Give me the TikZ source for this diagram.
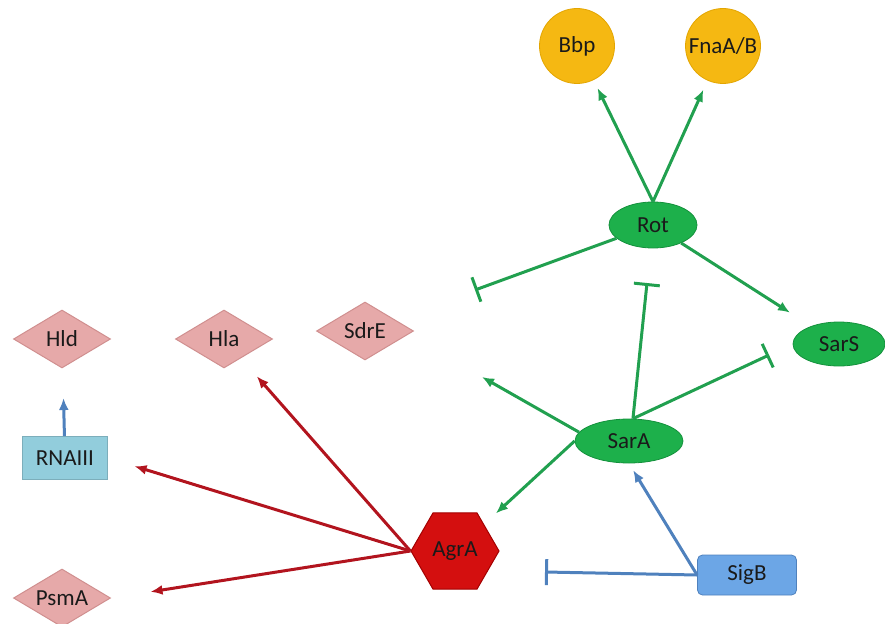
\documentclass[tikz,border=0pt]{standalone}
\usepackage{fontspec}
\setmainfont{Carlito}
\usetikzlibrary{arrows.meta,positioning,shapes.geometric}
\definecolor{rgink}{HTML}{1A1A1A}
\definecolor{rggreen}{HTML}{21A04F}
\definecolor{rgleaf}{HTML}{1DB04B}
\definecolor{rgleafdk}{HTML}{14913C}
\definecolor{rggold}{HTML}{F5B812}
\definecolor{rggolddk}{HTML}{E3A500}
\definecolor{rgpink}{HTML}{E6A9A9}
\definecolor{rgpinkdk}{HTML}{D08F8F}
\definecolor{rgred}{HTML}{D40F0F}
\definecolor{rgreddk}{HTML}{A30000}
\definecolor{rgwine}{HTML}{B2141E}
\definecolor{rgblue}{HTML}{4F81BD}
\definecolor{rgaqua}{HTML}{92CDDC}
\definecolor{rgsky}{HTML}{6CA6E6}
\tikzset{
  regulator/.style={ellipse,draw=rgleafdk,fill=rgleaf,line width=.8pt,inner sep=0pt,text=rgink},
  adhesin/.style={circle,draw=rggolddk,fill=rggold,line width=.8pt,minimum size=75pt,inner sep=0pt,text=rgink},
  toxin/.style={diamond,aspect=1.67,draw=rgpinkdk,fill=rgpink,line width=1pt,minimum width=97pt,minimum height=58pt,inner sep=0pt,text=rgink},
  agr/.style={regular polygon,regular polygon sides=6,draw=rgreddk,fill=rgred,line width=1pt,minimum size=88pt,inner sep=0pt,text=rgink},
  rnabox/.style={rectangle,draw=rgaqua!85!black,fill=rgaqua,line width=.6pt,minimum width=85pt,minimum height=43pt,inner sep=0pt,text=rgink},
  sigma/.style={rectangle,rounded corners=5pt,draw=rgblue,fill=rgsky,line width=.8pt,minimum width=99pt,minimum height=40pt,inner sep=0pt,text=rgink},
  greenact/.style={-{Latex[length=12pt,width=10pt]},draw=rggreen,line width=3pt},
  greeninh/.style={-{Bar[width=26pt]},draw=rggreen,line width=3pt},
  redact/.style={-{Latex[length=12pt,width=10pt]},draw=rgwine,line width=3pt},
  blueact/.style={-{Latex[length=12pt,width=10pt]},draw=rgblue,line width=3pt},
  blueinh/.style={-{Bar[width=26pt]},draw=rgblue,line width=3pt},
}
\begin{document}
\begin{tikzpicture}[x=1pt,y=-1pt,font=\fontsize{23}{26}\selectfont]
  \useasboundingbox (0,0) rectangle (885,623);
  \node[adhesin] (bbp) at (577,46) {Bbp};
  \node[adhesin] (fna) at (723,46) {FnaA/B};
  \node[regulator,minimum width=88pt,minimum height=46pt] (rot) at (653,225) {Rot};
  \node[regulator,minimum width=92pt,minimum height=44pt] (sars) at (839,344) {SarS};
  \node[regulator,minimum width=108pt,minimum height=44pt] (sara) at (629,441) {SarA};
  \node[agr] (agra) at (455,551) {AgrA};
  \node[sigma] (sigb) at (747,575) {SigB};
  \node[rnabox] (rnaiii) at (65,458) {RNAIII};
  \node[toxin] (hld) at (62,339) {Hld};
  \node[toxin] (hla) at (224,339) {Hla};
  \node[toxin] (sdre) at (365,331) {SdrE};
  \node[toxin] (psma) at (62,598) {PsmA};
  \coordinate (rotbar) at (475,290);
  \coordinate (sarabar) at (647,283);
  \coordinate (saraout) at (482,377);
  \coordinate (sigbbar) at (545,572);
  \draw[greenact,shorten >=9pt] (rot.north) -- (bbp);
  \draw[greenact,shorten >=10pt] (rot.north) -- (fna);
  \draw[greenact,shorten >=25pt] (rot) -- (sars);
  \draw[greeninh] (rot.200) -- (rotbar);
  \draw[greeninh] (sara.80) -- (sarabar);
  \draw[greeninh,shorten >=26pt] (sara.80) -- (sars.west);
  \draw[greenact] (sara.170) -- (saraout);
  \draw[greenact,shorten >=16pt] (sara.west) -- (agra);
  \draw[blueact,shorten >=8pt] (sigb.west) -- (sara.south);
  \draw[blueinh] (sigb.west) -- (sigbbar);
  \draw[redact,shorten >=24pt] (agra.west) -- (hla);
  \draw[redact,shorten >=28pt] (agra.west) -- (rnaiii.east);
  \draw[redact,shorten >=40pt] (agra.west) -- (psma.east);
  \draw[blueact,shorten >=30pt] (rnaiii) -- (hld);
\end{tikzpicture}
\end{document}
